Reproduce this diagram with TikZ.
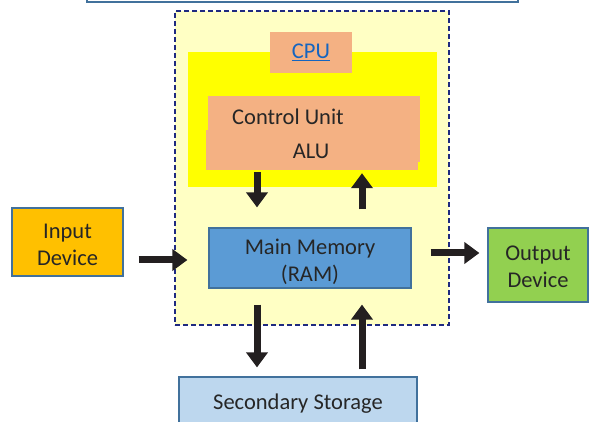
\documentclass[tikz,border=0pt]{standalone}
\usepackage{fontspec}
\setmainfont{Carlito}
\usetikzlibrary{arrows.meta}
\definecolor{bord}{HTML}{41719C}
\definecolor{paleyel}{HTML}{FFFFC4}
\definecolor{cpuyel}{HTML}{FFFF00}
\definecolor{salmon}{HTML}{F4B183}
\definecolor{memblue}{HTML}{5B9BD5}
\definecolor{inorange}{HTML}{FFC000}
\definecolor{outgreen}{HTML}{92D050}
\definecolor{storblue}{HTML}{BDD7EE}
\definecolor{dashnavy}{HTML}{1F2A80}
\definecolor{arrowblk}{HTML}{231F20}
\definecolor{txt}{HTML}{262626}
\definecolor{cpublue}{HTML}{1565C0}
\newcommand\boxtxt[2][-4.5pt]{\raisebox{#1}[\height][\depth]{\begin{tabular}{@{}c@{}}#2\end{tabular}}}
\tikzset{
  lbl/.style={font=\fontsize{22.5}{27}\selectfont},
  box/.style={draw=bord, line width=1.2pt, inner sep=0pt, text=txt, lbl},
  big/.style={draw=arrowblk, line width=7pt, -{Triangle[width=21pt,length=15pt]}, arrowblk},
}
\begin{document}
\begin{tikzpicture}[x=1pt,y=-1pt]
\useasboundingbox (0,0) rectangle (590,422);
\clip (0,0) rectangle (590,422);
% top bar
\node[draw=bord, line width=2pt, fill=white, minimum width=431pt, minimum height=14pt, inner sep=0pt] (topbar) at (302.5,-4.5) {};
% dashed CPU enclosure
\node[draw=dashnavy, dashed, dash pattern=on 5pt off 3pt, line width=1.3pt, fill=paleyel, minimum width=274pt, minimum height=314pt, inner sep=0pt] (encl) at (312,168) {};
% yellow area
\node[fill=cpuyel, minimum width=249pt, minimum height=135pt, inner sep=0pt] (yel) at (312.5,119.5) {};
% CPU label
\node[fill=salmon, minimum width=82pt, minimum height=41pt, inner sep=0pt, text=cpublue, lbl] (cpu) at (311,52.5) {\underline{CPU}};
% control unit / ALU
\node[fill=salmon, minimum width=212pt, minimum height=66pt, inner sep=0pt] (cu) at (314,129) {};
\node[fill=salmon, minimum width=212pt, minimum height=40pt, inner sep=0pt] (alu) at (312,150) {};
\node[text=txt, lbl, inner sep=0pt] (cutxt) at (288,117) {Control Unit};
\node[text=txt, lbl, inner sep=0pt] (alutxt) at (311,151) {ALU};
% main memory
\node[box, fill=memblue, minimum width=202pt, minimum height=60pt] (mem) at (310,258) {\boxtxt{Main Memory\\(RAM)}};
% input / output
\node[box, fill=inorange, minimum width=111pt, minimum height=68pt] (in) at (67.5,242) {\boxtxt{Input\\Device}};
\node[box, fill=outgreen, minimum width=100pt, minimum height=74pt] (out) at (538,265) {\boxtxt[-4pt]{Output\\Device}};
% secondary storage
\node[box, fill=storblue, minimum width=238pt, minimum height=50pt] (stor) at (298,402) {\boxtxt[-2pt]{Secondary Storage}};
% arrows
\coordinate (xa) at (257,0);
\coordinate (xb) at (362,0);
\coordinate (yi) at (0,260);
\coordinate (yo) at (0,253);
\draw[big, shorten <=2pt, shorten >=20pt] (alu.south -| xa) -- (mem.north -| xa);
\draw[big, shorten <=18pt, shorten >=3pt] (mem.north -| xb) -- (alu.south -| xb);
\draw[big, shorten <=15pt, shorten >=21pt] (in.east |- yi) -- (mem.west |- yi);
\draw[big, shorten <=19pt, shorten >=8pt] (mem.east |- yo) -- (out.west |- yo);
\draw[big, shorten <=16pt, shorten >=9pt] (mem.south -| xa) -- (stor.north -| xa);
\draw[big, shorten <=7pt, shorten >=16pt] (stor.north -| xb) -- (mem.south -| xb);
\end{tikzpicture}
\end{document}
